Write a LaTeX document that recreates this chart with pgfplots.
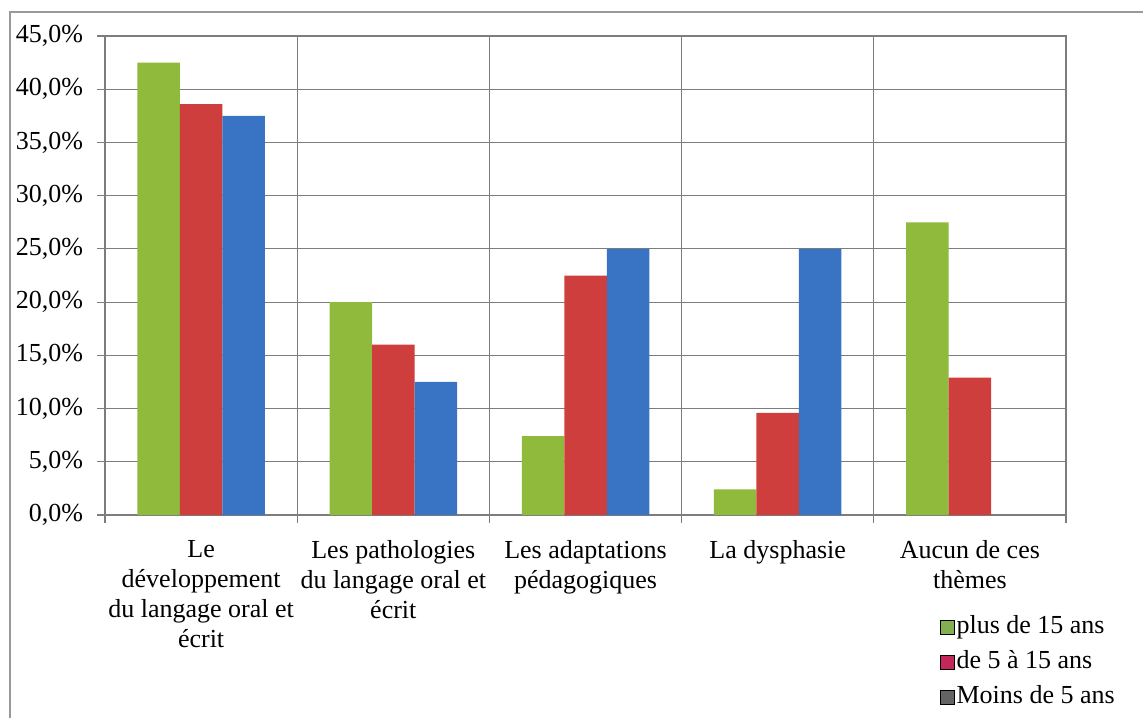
\documentclass[border=0pt]{standalone}
\usepackage{fontspec}
\setmainfont{Liberation Serif}
\usepackage{pgfplots}
\pgfplotsset{compat=1.18}

\definecolor{bgreen}{RGB}{143,186,60}
\definecolor{bred}{RGB}{205,62,60}
\definecolor{bblue}{RGB}{56,115,196}
\definecolor{lgreen}{RGB}{128,176,80}
\definecolor{lred}{RGB}{196,40,90}
\definecolor{lgray}{RGB}{100,100,100}
\definecolor{gridc}{RGB}{125,125,125}

\begin{document}
\begin{tikzpicture}
  \useasboundingbox (0,0) rectangle (571.5bp,-359bp);
  % outer frame of the chart
  \draw[gray!80, line width=0.8bp] (5bp,-380bp) -- (5bp,-6bp) -- (590bp,-6bp);

  \begin{axis}[
      at={(52.5bp,-18bp)}, anchor=north west,
      scale only axis,
      width=480.5bp, height=239.5bp,
      xmin=0.5, xmax=5.5,
      ymin=0, ymax=45,
      ybar, bar width=21.25bp,
      axis line style={gridc, line width=0.6bp},
      tick align=outside,
      xtick pos=bottom, ytick pos=left,
      xtick={1,2,3,4,5},
      major x tick style={draw=none},
      minor xtick={0.5,1.5,2.5,3.5,4.5,5.5},
      minor tick length=4bp,
      minor x tick style={gridc, line width=0.6bp},
      minor x grid style={gridc, line width=0.6bp},
      xminorgrids=true,
      xticklabels={{Le\\développement\\du langage oral et\\écrit},
                   {Les pathologies\\du langage oral et\\écrit},
                   {Les adaptations\\pédagogiques},
                   {La dysphasie},
                   {Aucun de ces\\thèmes}},
      xticklabel style={align=center, font=\fontsize{13bp}{15bp}\selectfont, yshift=-5bp},
      ytick={0,5,...,45},
      major tick length=4bp,
      major y tick style={gridc, line width=0.6bp},
      ymajorgrids=true,
      major y grid style={gridc, line width=0.6bp},
      yticklabel style={font=\fontsize{13bp}{15bp}\selectfont, xshift=-3.5bp,
        /pgf/number format/.cd, fixed, fixed zerofill, precision=1, use comma,
        assume math mode=true},
      yticklabel={\pgfmathprintnumber{\tick}\%},
      legend cell align=left,
      legend image code/.code={\fill[#1] (0bp,-3.5bp) rectangle (7bp,3.5bp);},
      legend style={at={(0.862,-0.197)}, anchor=north west, draw=none, fill=none,
        font=\fontsize{13bp}{15bp}\selectfont,
        nodes={inner sep=1bp, text height=9bp, text depth=3bp},
        row sep=3.5bp},
    ]

    % plus de 15 ans
    \addplot[fill=bgreen, draw=none, bar shift=-21.25bp, forget plot] coordinates {
        (1,42.5) (2,20.0) (3,7.4) (4,2.4) (5,27.5)};
    % de 5 a 15 ans
    \addplot[fill=bred, draw=none, bar shift=0bp, forget plot] coordinates {
        (1,38.6) (2,16.0) (3,22.5) (4,9.6) (5,12.9)};
    % Moins de 5 ans
    \addplot[fill=bblue, draw=none, bar shift=21.25bp, forget plot] coordinates {
        (1,37.5) (2,12.5) (3,25.0) (4,25.0) (5,0)};

    \addlegendimage{fill=lgreen}
    \addlegendentry{plus de 15 ans}
    \addlegendimage{fill=lred}
    \addlegendentry{de 5 à 15 ans}
    \addlegendimage{fill=lgray}
    \addlegendentry{Moins de 5 ans}
  \end{axis}
\end{tikzpicture}
\end{document}
